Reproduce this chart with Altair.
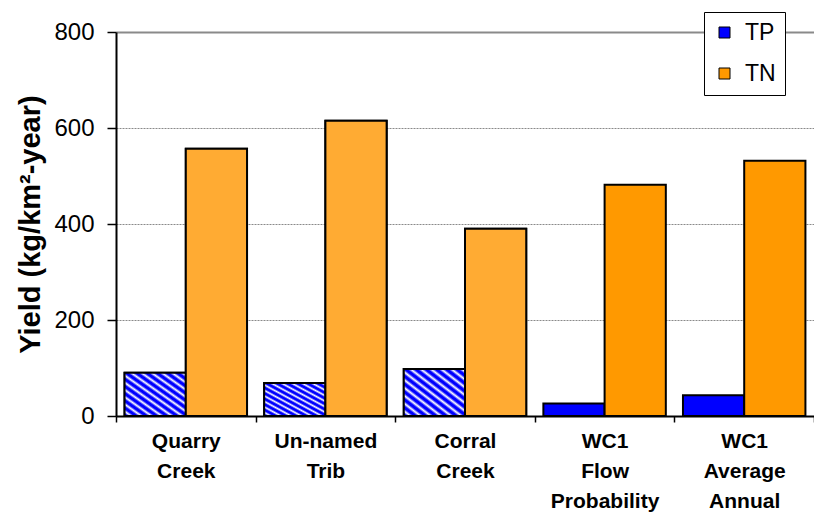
import altair as alt
import pandas as pd

categories = ["Quarry Creek", "Un-named Trib", "Corral Creek", "WC1 Flow Probability", "WC1 Average Annual"]
series = ["TP", "TN"]
tp_values = [90, 69, 98, 26, 43]
tn_values = [557, 615, 390, 482, 532]
striped_tp = ["Quarry Creek", "Un-named Trib", "Corral Creek"]
y_ticks = [0, 200, 400, 600, 800]

rows = []
for c, tp, tn in zip(categories, tp_values, tn_values):
    rows.append({"category": c, "series": "TP", "value": tp})
    rows.append({"category": c, "series": "TN", "value": tn})
df = pd.DataFrame(rows)

FONT = "Liberation Sans"
BLUE = "#0000FF"
ORANGE = "#FF9900"

# diagonal blue/white stripes via a many-stop linear gradient
N = 12
stops = []
for k in range(N):
    stops.append({"offset": k / N, "color": BLUE})
    stops.append({"offset": (k + 0.3) / N, "color": BLUE})
    stops.append({"offset": (k + 0.65) / N, "color": "#FFFFFF"})
stops.append({"offset": 1.0, "color": BLUE})
stripe_grad = {"gradient": "linear", "x1": 0, "y1": 1, "x2": 1, "y2": 0, "stops": stops}

x_enc = alt.X(
    "category:N",
    sort=categories,
    scale=alt.Scale(paddingInner=0, paddingOuter=0),
    axis=alt.Axis(
        title=None,
        labelAngle=0,
        labelExpr="split(datum.label, ' ')",
        labelFont=FONT,
        labelFontSize=21,
        labelFontWeight="bold",
        labelColor="black",
        labelLineHeight=30,
        labelPadding=8,
        labelBaseline="top",
        tickBand="extent",
        tickSize=6,
        tickColor="black",
        tickWidth=1.5,
        domainColor="black",
        domainWidth=2,
        grid=False,
    ),
)
xoff_enc = alt.XOffset("series:N", sort=series, scale=alt.Scale(paddingOuter=0.14, paddingInner=0))
y_enc = alt.Y(
    "value:Q",
    scale=alt.Scale(domain=[0, 800], nice=False),
    axis=alt.Axis(
        title="Yield (kg/km²-year)",
        titleFont=FONT,
        titleFontSize=29,
        titleFontWeight="bold",
        titleColor="black",
        titlePadding=8,
        values=y_ticks,
        labelFont=FONT,
        labelFontSize=24,
        labelColor="black",
        labelPadding=13,
        tickSize=9,
        tickColor="black",
        tickWidth=1.5,
        domainColor="black",
        domainWidth=2,
        gridColor="#8a8a8a",
        gridWidth={"condition": {"test": "datum.value === 800", "value": 2}, "value": 1},
        gridDash={"condition": {"test": "datum.value === 800", "value": []}, "value": [2, 1]},
    ),
)

base = alt.Chart(df).mark_bar(stroke="black", strokeWidth=2).encode(
    x=x_enc,
    xOffset=xoff_enc,
    y=y_enc,
    color=alt.Color(
        "series:N",
        sort=series,
        scale=alt.Scale(domain=series, range=[BLUE, ORANGE]),
        legend=alt.Legend(
            title=None,
            orient="none",
            legendX=588,
            legendY=-20,
            fillColor="white",
            strokeColor="black",
            padding=9,
            labelFont=FONT,
            labelFontSize=23,
            labelColor="black",
            labelOffset=9,
            rowPadding=17,
            symbolType="square",
            symbolSize=121,
            symbolStrokeColor="black",
            symbolStrokeWidth=1,
        ),
    ),
)

stripes = (
    alt.Chart(df)
    .transform_filter(alt.FieldOneOfPredicate(field="category", oneOf=striped_tp))
    .transform_filter(alt.datum.series == "TP")
    .mark_bar(stroke="black", strokeWidth=2)
    .encode(x=x_enc, xOffset=xoff_enc, y=y_enc, fill=alt.value(stripe_grad))
)

dense_tn = (
    alt.Chart(df)
    .transform_filter(alt.FieldOneOfPredicate(field="category", oneOf=striped_tp))
    .transform_filter(alt.datum.series == "TN")
    .mark_bar(stroke="black", strokeWidth=2)
    .encode(x=x_enc, xOffset=xoff_enc, y=y_enc, fill=alt.value("#FFAB33"))
)

chart = (
    alt.layer(base, stripes, dense_tn)
    .properties(
        width=698,
        height=384,
        autosize=alt.AutoSizeParams(type="none"),
        padding={"left": 108, "top": 24, "right": 0, "bottom": 97},
        background="white",
    )
    .configure_view(stroke=None)
)

chart.save("out.html", embed_options={"renderer": "svg", "actions": False})
